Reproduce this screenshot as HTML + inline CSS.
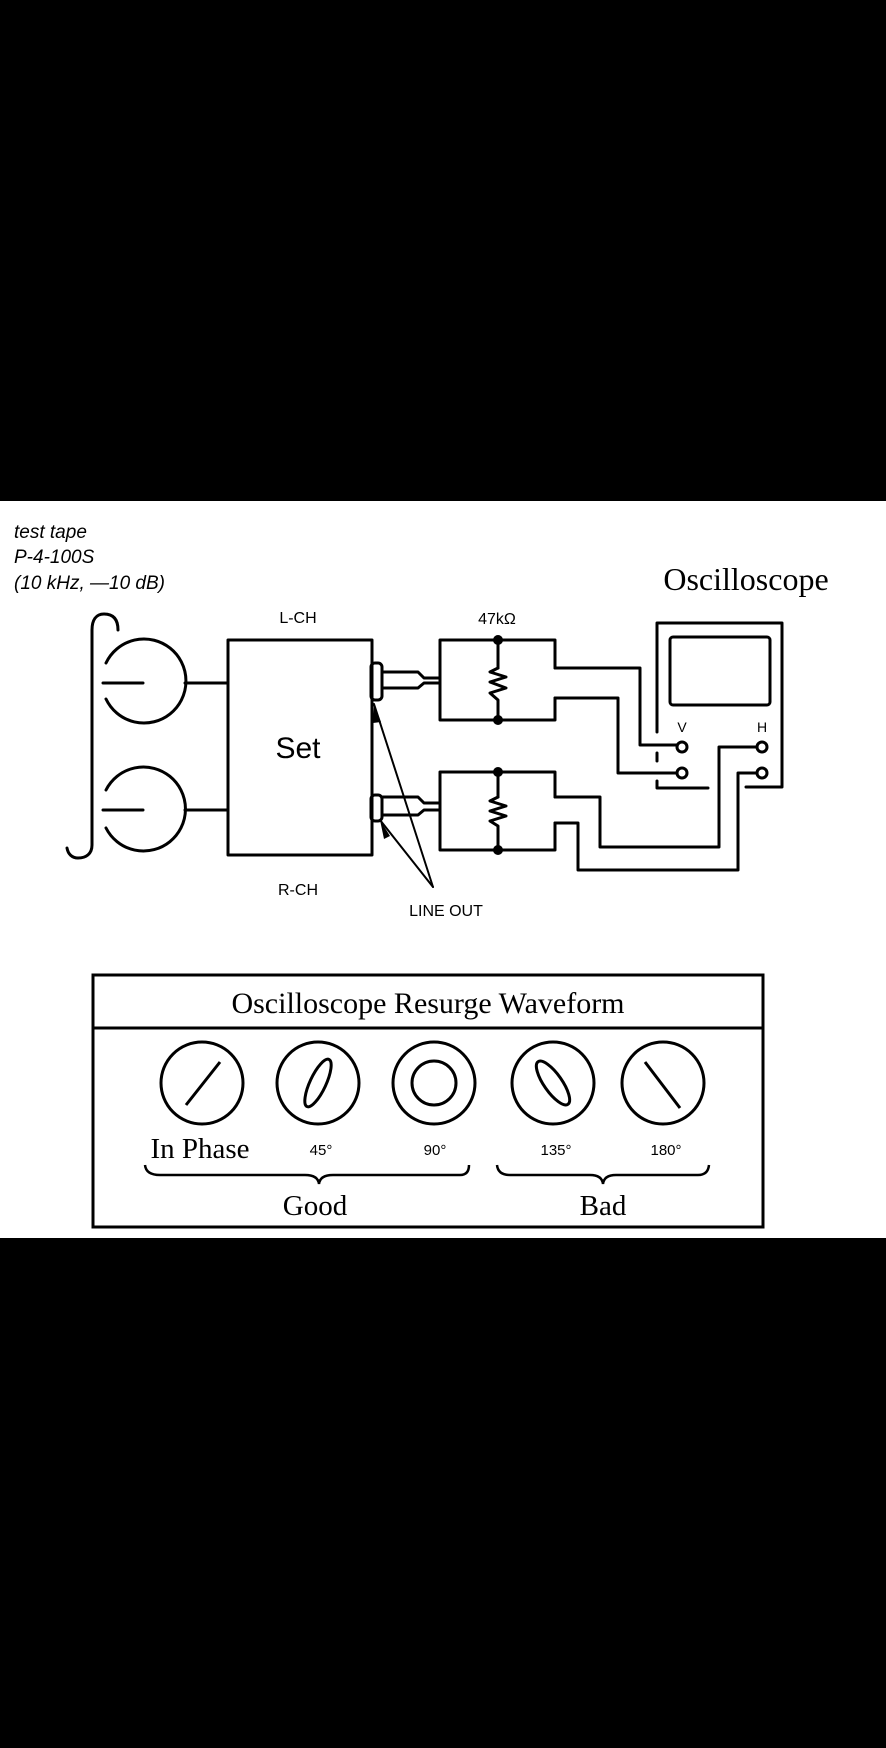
<!DOCTYPE html>
<html><head><meta charset="utf-8"><style>
html,body{margin:0;padding:0;background:#000;}
svg{display:block}
</style></head><body>
<svg width="886" height="1748" viewBox="0 0 886 1748" xmlns="http://www.w3.org/2000/svg">
<rect x="0" y="0" width="886" height="1748" fill="#000"/>
<rect x="0" y="501" width="886" height="737" fill="#fff"/>
<g font-family="Liberation Sans, sans-serif" font-style="italic" font-size="19" fill="#000">
<text x="14" y="538">test tape</text>
<text x="14" y="563">P-4-100S</text>
<text x="14" y="589">(10 kHz, —10 dB)</text>
</g>
<text x="746" y="590" text-anchor="middle" font-family="Liberation Serif, serif" font-size="32" fill="#000">Oscilloscope</text>
<g fill="none" stroke="#000" stroke-width="3" stroke-linejoin="round" stroke-linecap="round">
<!-- bracket -->
<path d="M118,630 C118,618 112,614 104,614 C96,614 92,620 92,630 L92,845 C92,854 86,858 78,858 C72,858 68,854 67,848"/>
<!-- reels -->
<path d="M106,663 A42,42 0 1 1 106,699"/>
<path d="M106,790 A42,42 0 1 1 106,828"/>
<line x1="103" y1="683" x2="143" y2="683"/>
<line x1="103" y1="810" x2="143" y2="810"/>
<line x1="185" y1="683" x2="228" y2="683"/>
<line x1="185" y1="810" x2="228" y2="810"/>
<!-- set -->
<rect x="228" y="640" width="144" height="215"/>
<!-- jacks -->
<rect x="371" y="663" width="11" height="37" rx="4"/>
<rect x="371" y="795" width="11" height="26" rx="4"/>
<path d="M382,672 L418,672 L424,678 L440,678"/>
<path d="M382,688 L418,688 L424,683 L440,683"/>
<path d="M382,797 L418,797 L424,803 L440,803"/>
<path d="M382,815 L418,815 L424,810 L440,810"/>
<!-- resistor boxes -->
<path d="M555,668 L555,640 L440,640 L440,720 L555,720 L555,698"/>
<line x1="498" y1="640" x2="498" y2="668"/>
<path d="M498,668 L490,672 L506,677 L490,682 L506,688 L490,693 L498,700 L498,720"/>
<path d="M555,797 L555,772 L440,772 L440,850 L555,850 L555,823"/>
<line x1="498" y1="772" x2="498" y2="797"/>
<path d="M498,797 L490,801 L506,806 L490,811 L506,816 L490,821 L498,826 L498,850"/>
<!-- wires -->
<path d="M555,668 L640,668 L640,745 L677,745"/>
<path d="M555,698 L618,698 L618,773 L677,773"/>
<path d="M555,797 L600,797 L600,847 L719,847 L719,747 L757,747"/>
<path d="M555,823 L578,823 L578,870 L738,870 L738,773 L757,773"/>
<!-- scope -->
<path d="M657,732 L657,623 L782,623 L782,787 L746,787"/>
<path d="M657,781 L657,788 L708,788"/>
<line x1="657" y1="753" x2="657" y2="761"/>
<rect x="670" y="637" width="100" height="68" rx="3"/>
<circle cx="682" cy="747" r="5"/>
<circle cx="682" cy="773" r="5"/>
<circle cx="762" cy="747" r="5"/>
<circle cx="762" cy="773" r="5"/>
<!-- line out arrows -->
<line x1="433" y1="887" x2="374" y2="704" stroke-width="2"/>
<line x1="433" y1="887" x2="380" y2="820" stroke-width="2"/>
</g>
<g fill="#000">
<circle cx="498" cy="640" r="5"/><circle cx="498" cy="720" r="5"/>
<circle cx="498" cy="772" r="5"/><circle cx="498" cy="850" r="5"/>
<polygon points="374,704 381,722 373,723"/>
<polygon points="380,820 390,836 384,839"/>
</g>
<g font-family="Liberation Sans, sans-serif" font-size="16" fill="#000" text-anchor="middle">
<text x="298" y="623">L-CH</text>
<text x="298" y="895">R-CH</text>
<text x="497" y="624">47kΩ</text>
<text x="446" y="916">LINE OUT</text>
<text x="682" y="732" font-size="14">V</text>
<text x="762" y="732" font-size="14">H</text>
</g>
<text x="298" y="758" text-anchor="middle" font-family="Liberation Sans, sans-serif" font-size="30" fill="#000">Set</text>
<!-- table -->
<g fill="none" stroke="#000" stroke-width="3">
<rect x="93" y="975" width="670" height="252"/>
<line x1="93" y1="1028" x2="763" y2="1028"/>
<circle cx="202" cy="1083" r="41"/>
<circle cx="318" cy="1083" r="41"/>
<circle cx="434" cy="1083" r="41"/>
<circle cx="553" cy="1083" r="41"/>
<circle cx="663" cy="1083" r="41"/>
<line x1="186" y1="1105" x2="220" y2="1062"/>
<ellipse cx="318" cy="1083" rx="8" ry="26" transform="rotate(25 318 1083)"/>
<circle cx="434" cy="1083" r="22"/>
<ellipse cx="553" cy="1083" rx="9" ry="26" transform="rotate(-35 553 1083)"/>
<line x1="645" y1="1062" x2="680" y2="1108"/>
<path d="M145,1165 Q146,1175 160,1175 L305,1175 Q318,1175 319,1184 Q320,1175 333,1175 L460,1175 Q469,1175 469,1165" stroke-width="2.5"/>
<path d="M497,1165 Q498,1175 510,1175 L590,1175 Q602,1175 603,1184 Q604,1175 616,1175 L698,1175 Q708,1175 709,1165" stroke-width="2.5"/>
</g>
<g font-family="Liberation Serif, serif" fill="#000" text-anchor="middle">
<text x="428" y="1013" font-size="30">Oscilloscope Resurge Waveform</text>
<text x="200" y="1158" font-size="29">In Phase</text>
<text x="315" y="1215" font-size="29">Good</text>
<text x="603" y="1215" font-size="29">Bad</text>
</g>
<g font-family="Liberation Sans, sans-serif" font-size="15" fill="#000" text-anchor="middle">
<text x="321" y="1155">45°</text>
<text x="435" y="1155">90°</text>
<text x="556" y="1155">135°</text>
<text x="666" y="1155">180°</text>
</g>
</svg>
</body></html>
